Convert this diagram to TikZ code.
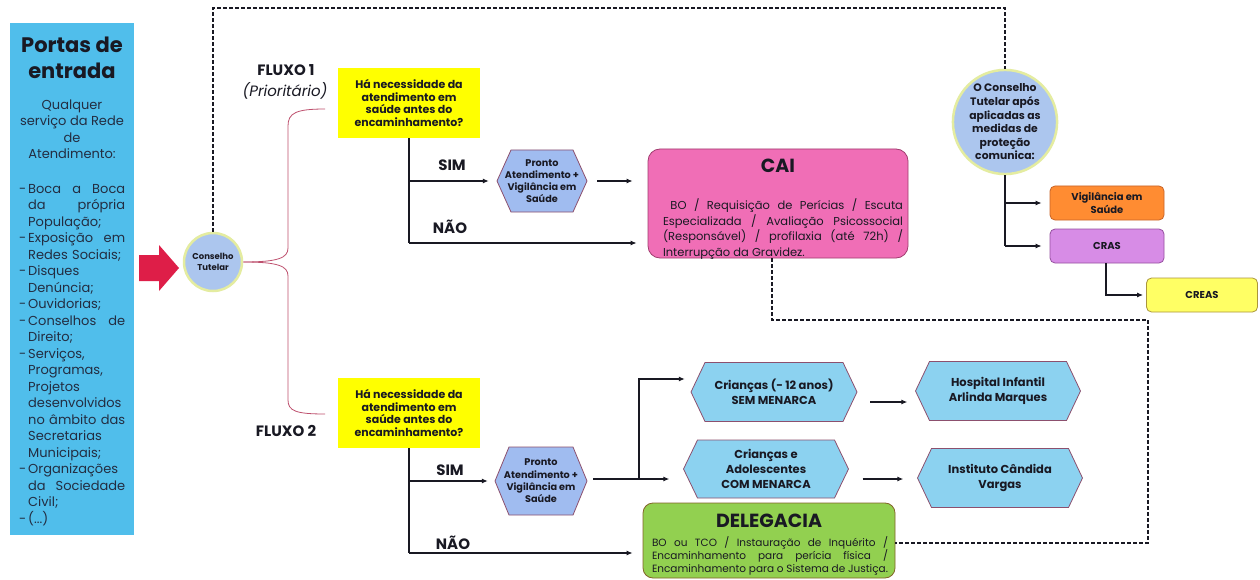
\documentclass[tikz,border=0pt]{standalone}
\usepackage{fontspec}
\setmainfont{Poppins}
\usetikzlibrary{arrows.meta,calc}
\definecolor{portasblue}{RGB}{80,190,235}
\definecolor{arrowred}{RGB}{222,30,72}
\definecolor{circfill}{RGB}{172,198,238}
\definecolor{circring}{RGB}{228,236,160}
\definecolor{qyellow}{RGB}{255,255,0}
\definecolor{hexpale}{RGB}{160,188,240}
\definecolor{hexsky}{RGB}{140,210,240}
\definecolor{hexline}{RGB}{140,80,110}
\definecolor{caipink}{RGB}{240,110,182}
\definecolor{cailine}{RGB}{160,60,110}
\definecolor{delgreen}{RGB}{146,208,80}
\definecolor{delline}{RGB}{130,100,40}
\definecolor{vigorange}{RGB}{255,140,50}
\definecolor{vigline}{RGB}{200,100,40}
\definecolor{crasviolet}{RGB}{215,140,230}
\definecolor{crasline}{RGB}{150,80,160}
\definecolor{creasyellow}{RGB}{255,255,100}
\definecolor{creasline}{RGB}{170,150,60}
\definecolor{bracecol}{RGB}{190,80,110}
\definecolor{ink}{RGB}{25,25,35}
\definecolor{slate}{RGB}{35,45,65}
\newcommand{\fs}[2]{\fontsize{#1}{#2}\selectfont}
\newcommand{\itm}{\makebox[9pt][l]{-}}
\newcommand{\cnt}{\hspace*{9pt}}
\newcommand{\hexa}[8]{%
  \filldraw[hexline, line width=0.8pt, fill=#6] (#2-#4/2,#3) -- (#2-#4/2+14,#3-#5/2) -- (#2+#4/2-14,#3-#5/2) -- (#2+#4/2,#3) -- (#2+#4/2-14,#3+#5/2) -- (#2-#4/2+14,#3+#5/2) -- cycle;
  \node[minimum width=#4, minimum height=#5, inner sep=0pt, align=center, font=#7, text=ink] (#1) at (#2,#3) {#8};
}
\begin{document}
\begin{tikzpicture}[x=1pt, y=-1pt,
  arr/.style={-{Latex[length=6pt,width=5pt]}, line width=1.1pt, draw=ink},
  ln/.style={line width=1.1pt, draw=ink},
  dsh/.style={line width=1.1pt, dash pattern=on 4pt off 2pt, draw=ink},
  lbl/.style={font=\bfseries\fs{15}{18}, text=ink, inner sep=0pt},
  qbox/.style={fill=qyellow, minimum width=142, minimum height=70, inner sep=0pt, align=center, font=\bfseries\fs{11}{12.7}, text=ink},
  circ/.style={circle, fill=circfill, draw=circring, line width=2.5pt, align=center, inner sep=0pt, text=ink},
  rbox/.style={rounded corners=5pt, minimum width=114, minimum height=34, align=center, inner sep=0pt, font=\bfseries\fs{10}{12.5}, text=ink, line width=0.8pt},
  bigbox/.style={rounded corners=12pt, line width=0.8pt, inner sep=0pt},
  ttl/.style={font=\bfseries\fs{19}{22}, text=ink, inner sep=0pt},
]
\useasboundingbox (0,0) rectangle (1260,580);
\fill[white] (0,0) rectangle (1260,580);

% left column
\node[fill=portasblue, minimum width=124, minimum height=512, inner sep=0pt] (portas) at (72,279) {};
\node[font=\bfseries\fs{21}{26}, align=center, text=ink, inner sep=0pt] (portasttl) at (72,58) {Portas de\\entrada};
\node[font=\fs{13}{16.5}, align=center, text=slate, inner sep=0pt] (portasintro) at (72,129) {Qualquer\\serviço da Rede\\de\\Atendimento:};
\node[font=\fs{13}{16.5}, align=left, text width=106, text=slate, inner sep=0pt, anchor=west] (portaslist) at (19,355) {%
\itm Boca\hfill a\hfill Boca\\
\cnt da\hfill própria\\
\cnt População;\\
\itm Exposição\hfill em\\
\cnt Redes Sociais;\\
\itm Disques\\
\cnt Denúncia;\\
\itm Ouvidorias;\\
\itm Conselhos\hfill de\\
\cnt Direito;\\
\itm Serviços,\\
\cnt Programas,\\
\cnt Projetos\\
\cnt desenvolvidos\\
\cnt no\hfill âmbito\hfill das\\
\cnt Secretarias\\
\cnt Municipais;\\
\itm Organizações\\
\cnt da\hfill Sociedade\\
\cnt Civil;\\
\itm (...)};

% red block arrow
\fill[arrowred] (139,255) -- (159,255) -- (159,245) -- (179,268) -- (159,291) -- (159,281) -- (139,281) -- cycle;

% Conselho Tutelar
\node[circ, minimum size=58, font=\bfseries\fs{8.5}{11}] (cons1) at (213,262) {Conselho\\Tutelar};

% brace
\coordinate (b1) at (325,109);
\coordinate (b2) at (325,414);
\draw[bracecol, line width=0.8pt] (b1) .. controls (296,109) and (288,113) .. (288,126) -- (288,248) .. controls (288,258) and (278,262) .. (cons1.east);
\draw[bracecol, line width=0.8pt] (cons1.east) .. controls (278,262) and (288,266) .. (288,276) -- (288,400) .. controls (288,411) and (296,414) .. (b2);

% labels
\node[lbl] (f1) at (286,70) {FLUXO 1};
\node[lbl, font=\itshape\fs{15}{18}] (f1b) at (285,91) {(Prioritário)};
\node[lbl] (f2) at (286,431) {FLUXO 2};

% Flow 1
\node[qbox] (q1) at (409,103) {Há necessidade da\\atendimento em\\saúde antes do\\encaminhamento?};
\hexa{pa1}{542}{181}{90}{62}{hexpale}{\bfseries\fs{9.7}{11.8}}{Pronto\\Atendimento +\\Vigilância em\\Saúde}
\node[bigbox, fill=caipink, draw=cailine, minimum width=260, minimum height=109] (cai) at (778,203.5) {};
\node[ttl] (caittl) at (778,166) {CAI};
\node[font=\fs{11.5}{15.6}, text=ink, align=left, inner sep=0pt] (caibody) at (783,229) {%
\makebox[240pt][s]{\ BO / Requisição de Perícias / Escuta}\\
\makebox[240pt][s]{Especializada / Avaliação Psicossocial}\\
\makebox[240pt][s]{(Responsável) / profilaxia (até 72h) /}\\
Interrupção da Gravidez.};
\coordinate (n1) at (q1.south |- 0,243);
\draw[ln] (q1.south) -- (n1);
\draw[arr, shorten >=8pt] (q1.south |- pa1.west) -- (pa1.west);
\draw[arr, shorten <=10pt, shorten >=15pt] (pa1.east) -- (pa1.east -| cai.west);
\draw[arr, shorten >=11pt] (n1) -- (n1 -| cai.west);
\node[lbl] (sim1) at (452,165) {SIM};
\node[lbl] (nao1) at (450,227) {NÃO};

% Conselho after measures
\node[circ, minimum size=101, font=\bfseries\fs{10.8}{13.6}] (cons2) at (1005,122) {O Conselho\\Tutelar após\\aplicadas as\\medidas de\\proteção\\comunica:};
\node[rbox, fill=vigorange, draw=vigline] (vig) at (1107,203) {Vigilância em\\Saúde};
\node[rbox, fill=crasviolet, draw=crasline] (cras) at (1107,246) {CRAS};
\node[rbox, fill=creasyellow, draw=creasline, minimum width=111] (creas) at (1202,295) {CREAS};
\draw[ln] (cons2.south) -- (cons2.south |- cras.west);
\draw[arr, shorten >=8pt] (cons2.south |- vig.west) -- (vig.west);
\draw[arr, shorten >=8pt] (cons2.south |- cras.west) -- (cras.west);
\coordinate (c1) at (1106,0);
\draw[arr, shorten >=3pt] (c1 |- cras.south) |- (creas.west);

% Flow 2
\node[qbox] (q2) at (409,413) {Há necessidade da\\atendimento em\\saúde antes do\\encaminhamento?};
\hexa{pa2}{541}{481}{92}{68}{hexpale}{\bfseries\fs{9.7}{12.3}}{Pronto\\Atendimento +\\Vigilância em\\Saúde}
\hexa{cr1}{774}{392}{166}{59}{hexsky}{\bfseries\fs{11.5}{15}}{Crianças (- 12 anos)\\SEM MENARCA}
\hexa{hosp}{998}{391}{165}{59}{hexsky}{\bfseries\fs{11.5}{15}}{Hospital Infantil\\Arlinda Marques}
\hexa{cr2}{766}{469}{165}{58}{hexsky}{\bfseries\fs{11.5}{15}}{Crianças e\\Adolescentes\\COM MENARCA}
\hexa{inst}{1000}{478}{165}{59}{hexsky}{\bfseries\fs{11.5}{15}}{Instituto Cândida\\Vargas}
\node[bigbox, rounded corners=10pt, fill=delgreen, draw=delline, minimum width=252, minimum height=75] (del) at (769,540.5) {};
\node[ttl] (delttl) at (769,521) {DELEGACIA};
\node[font=\fs{10.5}{13}, text=ink, align=left, inner sep=0pt] (delbody) at (770,556) {%
\makebox[236pt][s]{BO ou TCO / Instauração de Inquérito /}\\
\makebox[236pt][s]{Encaminhamento para perícia física /}\\
\makebox[236pt][s]{Encaminhamento para o Sistema de Justiça.}};
\coordinate (n2) at (q2.south |- 0,553);
\coordinate (s2) at (q2.south |- pa2.west);
\coordinate (br) at (639,479);
\draw[ln] (q2.south) -- (n2);
\draw[arr, shorten >=7pt] (s2) -- (pa2.west);
\draw[arr, shorten <=6pt, shorten >=14pt] (pa2.east |- br) -- (br -| cr2.west);
\draw[arr, shorten >=6pt] (br) |- (cr1.west |- 0,379);
\draw[arr, shorten <=13pt, shorten >=8pt] (cr1.east |- 0,402) -- (hosp.west |- 0,402);
\draw[arr, shorten <=14pt, shorten >=14pt] (cr2.east |- 0,479) -- (inst.west |- 0,479);
\draw[arr, shorten >=10pt] (n2) -- (n2 -| del.west);
\node[lbl] (sim2) at (450,470) {SIM};
\node[lbl] (nao2) at (453,543) {NÃO};

% dashed feedback lines
\draw[dsh] (cons1.north) -- (213,8) -| (cons2.north);
\draw[dsh] ($(cai.south)+(-6,0)$) |- (1148,320) |- (del.east |- 0,543);
\end{tikzpicture}
\end{document}
